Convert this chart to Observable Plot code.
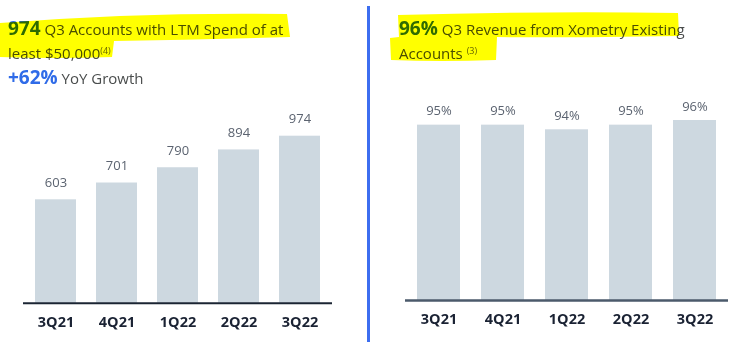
<!DOCTYPE html>
<html>
<head>
<meta charset="utf-8">
<script src="https://cdn.jsdelivr.net/npm/d3@7"></script>
<script src="https://cdn.jsdelivr.net/npm/@observablehq/plot@0.6"></script>
<style>
  html, body { margin: 0; padding: 0; background: #fff; }
  body { width: 750px; height: 345px; position: relative; overflow: hidden; font-family: "Open Sans", sans-serif; }
  .title { position: absolute; color: #4a4d4d; font-size: 15px; line-height: 22px; white-space: nowrap; }
  .big { color: #2f6be8; font-weight: 700; font-size: 19px; }
  .sup { font-size: 9px; vertical-align: 5px; color: #666; }
  .growth { position: absolute; left: 8px; top: 64px; font-size: 15px; color: #4a4d4d; white-space: nowrap; }
  .growth b { color: #2f6be8; font-size: 19px; }
  .hl { position: absolute; left: 0; top: 0; mix-blend-mode: multiply; pointer-events: none; }
  .divider { position: absolute; left: 367px; top: 6px; width: 3px; height: 336px; background: #3d6ef0; }
  .chart { position: absolute; top: 90px; }
  .chart svg { font-family: "Open Sans", sans-serif; overflow: visible; }
</style>
</head>
<body>
<div class="title" style="left:8px; top:17px;"><span class="big">974</span> Q3 Accounts with LTM Spend of at<br>least $50,000<span class="sup">(4)</span></div>
<div class="growth"><b>+62%</b> YoY Growth</div>
<div class="title" style="left:399px; top:17px;"><span class="big">96%</span> Q3 Revenue from Xometry Existing<br>Accounts <span class="sup">(3)</span></div>
<svg class="hl" width="750" height="80">
  <path d="M0,23 Q140,12 287,14 L290,37 Q200,40 114,41 L112,57 Q55,59 0,57 Z" fill="#ffff00"/>
  <path d="M398,15 Q540,11 678,13 L679,36 Q560,38 497,37 L496,60 Q440,62 391,60 L390,38 L399,37 Z" fill="#ffff00"/>
</svg>
<div class="divider"></div>
<div id="left" class="chart" style="left:0px;"></div>
<div id="right" class="chart" style="left:380px;"></div>
<script>
const quarters = ["3Q21", "4Q21", "1Q22", "2Q22", "3Q22"];
const accounts = [603, 701, 790, 894, 974];
const revenueShare = [95, 95, 94, 95, 96];
const revenueLabels = ["95%", "95%", "94%", "95%", "96%"];

const leftData = quarters.map((q, i) => ({q, v: accounts[i], label: String(accounts[i])}));
const rightData = quarters.map((q, i) => ({q, v: revenueShare[i], label: revenueLabels[i]}));

const barColor = "#cdd8e0";

const left = Plot.plot({
  width: 360, height: 250,
  marginLeft: 23, marginRight: 28, marginTop: 45.7, marginBottom: 37.3,
  x: {domain: quarters, paddingInner: 0.333, paddingOuter: 0.18, label: null},
  y: {domain: [0, d3.max(accounts)], axis: null},
  marks: [
    Plot.barY(leftData, {x: "q", y: "v", fill: barColor}),
    Plot.ruleY([0], {stroke: "#1b2533", strokeWidth: 2}),
    Plot.text(leftData, {x: "q", y: "v", text: "label", dy: -17, fontSize: 13, fill: "#5b6370"}),
    Plot.axisX({tickSize: 0, tickPadding: 14, fontSize: 14.5, fontWeight: "bold", fill: "#1a2233", label: null})
  ]
});
document.getElementById("left").appendChild(left);

const right = Plot.plot({
  width: 360, height: 250,
  marginLeft: 25, marginRight: 12, marginTop: 30, marginBottom: 40,
  x: {domain: quarters, paddingInner: 0.326, paddingOuter: 0.167, label: null},
  y: {domain: [57.3, 96], axis: null},
  marks: [
    Plot.barY(rightData, {x: "q", y: "v", fill: barColor, clip: true}),
    Plot.ruleY([57.3], {stroke: "#4b5a6b", strokeWidth: 2.5}),
    Plot.text(rightData, {x: "q", y: "v", text: "label", dy: -14, fontSize: 13, fill: "#5b6370"}),
    Plot.axisX({tickSize: 0, tickPadding: 13, fontSize: 14.5, fontWeight: "bold", fill: "#1a2233", label: null})
  ]
});
document.getElementById("right").appendChild(right);
</script>
</body>
</html>
